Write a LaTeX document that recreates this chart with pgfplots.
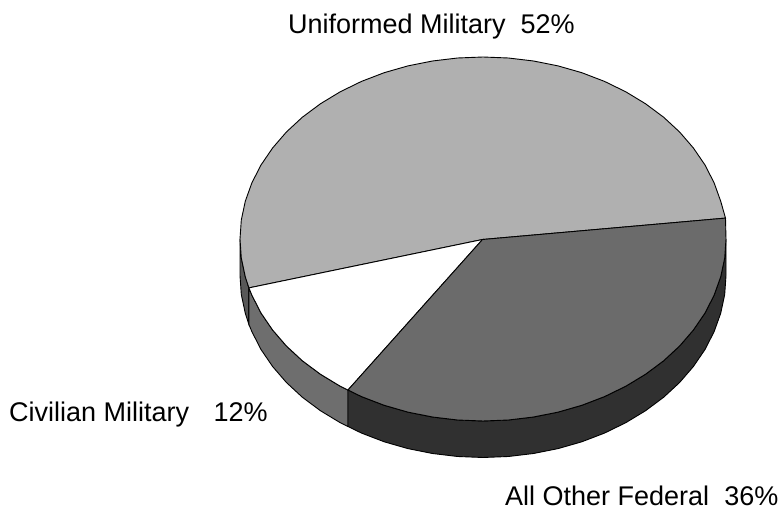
\documentclass[border=0pt]{standalone}
\usepackage{pgfplots}
\pgfplotsset{compat=1.18}
\usepackage{fontspec}
\setmainfont{Liberation Sans}
\definecolor{topgray}{HTML}{B0B0B0}
\definecolor{topdark}{HTML}{6B6B6B}
\definecolor{sidegray}{HTML}{585858}
\definecolor{sidewhite}{HTML}{6E6E6E}
\definecolor{sidedark}{HTML}{303030}
\begin{document}
\begin{tikzpicture}
\useasboundingbox (0pt,0pt) rectangle (780pt,510pt);
\begin{axis}[
  at={(0pt,0pt)}, anchor=south west,
  width=780pt, height=510pt, scale only axis,
  xmin=0, xmax=780, ymin=0, ymax=510, y dir=reverse,
  hide axis, clip=false,
]
% side of the grey slice
\addplot[draw=black, line width=0.9pt, fill=sidegray] coordinates {
(240,239)(241.3,258)(245.3,276.8)(248.9,287.9)(248.9,324.4)(245.3,313.3)(241.3,294.5)(240,275.5)} -- cycle;
% side of the white slice
\addplot[draw=black, line width=0.9pt, fill=sidewhite] coordinates {
(248.9,287.9)(251.9,295.2)(261,313)(272.6,330)(286.4,346)(302.4,360.8)(320.4,374.2)(340.2,386.2)(348,390)
(348,426.5)(340.2,422.7)(320.4,410.7)(302.4,397.3)(286.4,382.5)(272.6,366.5)(261,349.5)(251.9,331.7)(248.9,324.4)} -- cycle;
% side of the dark slice
\addplot[draw=black, line width=0.9pt, fill=sidedark] coordinates {
(348,390)(361.5,396.6)(384.2,405.3)(407.9,412.1)(432.5,417)(457.6,420)(483,421)(508.4,420)(533.5,417)(558.1,412.1)(581.8,405.3)(604.5,396.6)(625.8,386.2)(645.6,374.2)(663.6,360.8)(679.6,346)(693.4,330)(705,313)(714.1,295.2)(720.7,276.8)(724.7,258)(726,239)
(726,275.5)(724.7,294.5)(720.7,313.3)(714.1,331.7)(705,349.5)(693.4,366.5)(679.6,382.5)(663.6,397.3)(645.6,410.7)(625.8,422.7)(604.5,433.1)(581.8,441.8)(558.1,448.6)(533.5,453.5)(508.4,456.5)(483,457.5)(457.6,456.5)(432.5,453.5)(407.9,448.6)(384.2,441.8)(361.5,433.1)(348,426.5)} -- cycle;
% Uniformed Military 52
\addplot[draw=black, line width=0.9pt, fill=topgray] coordinates {
(482.5,239.5)(725.5,218.1)(720.7,201.2)(714.1,182.8)(705,165)(693.4,148)(679.6,132)(663.6,117.2)(645.6,103.8)(625.8,91.8)(604.5,81.4)(581.8,72.7)(558.1,65.9)(533.5,61)(508.4,58)(483,57)(457.6,58)(432.5,61)(407.9,65.9)(384.2,72.7)(361.5,81.4)(340.2,91.8)(320.4,103.8)(302.4,117.2)(286.4,132)(272.6,148)(261,165)(251.9,182.8)(245.3,201.2)(241.3,220)(240,239)(241.3,258)(245.3,276.8)(248.9,287.9)} -- cycle;
% Civilian Military 12
\addplot[draw=black, line width=0.9pt, fill=white] coordinates {
(482.5,239.5)(248.9,287.9)(251.9,295.2)(261,313)(272.6,330)(286.4,346)(302.4,360.8)(320.4,374.2)(340.2,386.2)(348,390)} -- cycle;
% All Other Federal 36
\addplot[draw=black, line width=0.9pt, fill=topdark] coordinates {
(482.5,239.5)(348,390)(361.5,396.6)(384.2,405.3)(407.9,412.1)(432.5,417)(457.6,420)(483,421)(508.4,420)(533.5,417)(558.1,412.1)(581.8,405.3)(604.5,396.6)(625.8,386.2)(645.6,374.2)(663.6,360.8)(679.6,346)(693.4,330)(705,313)(714.1,295.2)(720.7,276.8)(724.7,258)(726,239)(725.5,218.1)} -- cycle;
\node[anchor=base west, inner sep=0pt, font=\fontsize{27}{30}\selectfont] at (axis cs:288,33.5) {Uniformed Military\ \ 52\%};
\node[anchor=base west, inner sep=0pt, font=\fontsize{27}{30}\selectfont] at (axis cs:9,421.5) {Civilian Military\hspace{24.5pt}12\%};
\node[anchor=base west, inner sep=0pt, font=\fontsize{27}{30}\selectfont] at (axis cs:505,505.5) {All Other Federal\ \ 36\%};
\end{axis}
\end{tikzpicture}
\end{document}
